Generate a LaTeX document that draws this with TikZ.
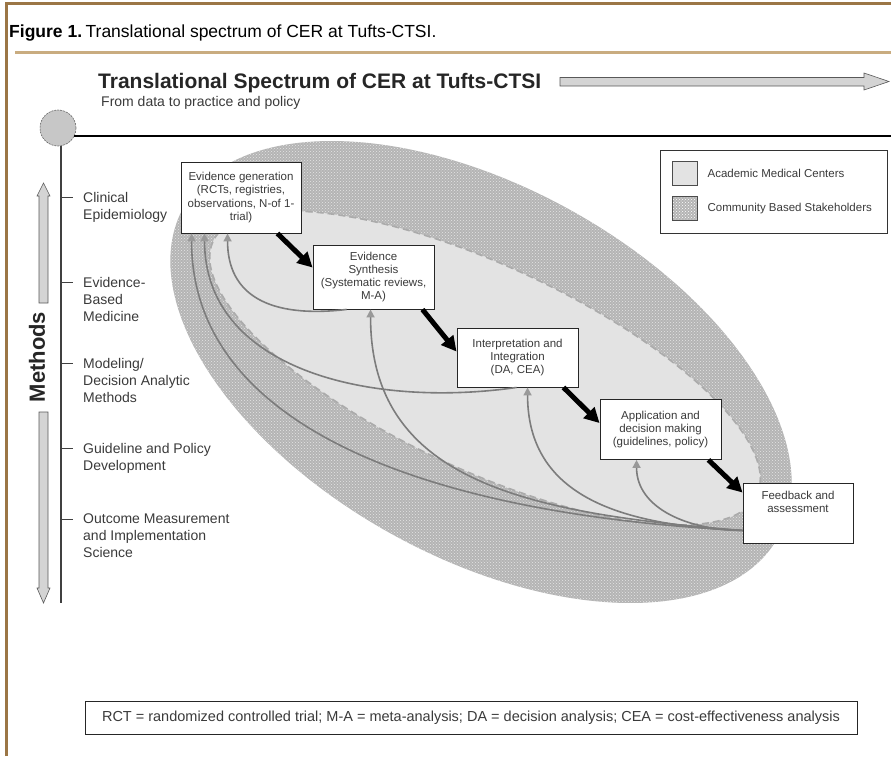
\documentclass[tikz,border=0pt]{standalone}
\usepackage{fontspec}
\setmainfont{Liberation Sans}
\usetikzlibrary{arrows.meta,positioning,patterns}

\definecolor{framebrown}{HTML}{9B7646}
\definecolor{rulebrown}{HTML}{C9AC80}
\definecolor{commgray}{HTML}{B4B4B4}
\definecolor{acadgray}{HTML}{E3E3E3}
\definecolor{loopgray}{HTML}{7C7C7C}
\definecolor{inkgray}{HTML}{3A3A3A}

\begin{document}
\begin{tikzpicture}[x=1pt, y=-1pt]
    \tikzset{
        stage/.style={
            draw=black!85, fill=white, line width=0.9pt,
            align=center, inner sep=2pt, text=inkgray,
            font=\fontsize{11.5}{13.3}\selectfont
        },
        forward/.style={
            line width=5pt, -{Triangle[length=15pt,width=15pt]}
        },
        loopback/.style={
            draw=loopgray, line width=1.6pt,
            -{Triangle[length=8pt,width=8pt,color=black!40]}
        },
        method/.style={
            anchor=north west, align=left, inner sep=0pt, text=inkgray,
            font=\fontsize{14}{17}\selectfont
        },
        swatch/.style={
            draw=black!70, line width=0.8pt, inner sep=0pt,
            minimum width=25pt, minimum height=24pt
        },
        hollow/.style={
            fill=black!17, draw=black!65, line width=0.6pt
        },
    }
    \useasboundingbox (0,0) rectangle (891,756);

    % ==== Frame and caption ====
    \draw[framebrown, line width=3pt] (6.5,756) -- (6.5,3.5) -- (891,3.5);
    \draw[rulebrown, line width=3pt] (15,52) -- (891,52);
    \node[anchor=base west, inner sep=0pt, font=\fontsize{17.5}{20}\selectfont] (caption) at (9,37)
        {\textbf{Figure 1.}\hspace{0.2em}Translational spectrum of CER at Tufts-CTSI.};

    % ==== Title and spectrum arrow ====
    \node[anchor=base west, inner sep=0pt, text=black!85,
          font=\bfseries\fontsize{21}{25}\selectfont] (title) at (98,88)
        {Translational Spectrum of CER at Tufts-CTSI};
    \node[anchor=base west, inner sep=0pt, text=inkgray,
          font=\fontsize{14}{16}\selectfont] (subtitle) at (101,106)
        {From data to practice and policy};
    \filldraw[hollow] (560,77.5) -- (864,77.5) -- (864,73) -- (889,81.5)
        -- (864,90) -- (864,86) -- (560,86) -- cycle;

    % ==== Community / academic regions ====
    \coordinate (outerc) at (481,372);
    \coordinate (innerc) at (485,368);
    \fill[commgray, rotate around={-29:(outerc)}] (outerc) ellipse [x radius=340pt, y radius=185pt];
    \fill[pattern=crosshatch dots, pattern color=white!80!gray, rotate around={-29:(outerc)}]
        (outerc) ellipse [x radius=340pt, y radius=185pt];
    \filldraw[fill=acadgray, draw=black!33, line width=1.6pt, dash pattern=on 7pt off 4pt,
        rotate around={-25:(innerc)}] (innerc) ellipse [x radius=300pt, y radius=102pt];

    % ==== Axis with methods ====
    \node[circle, minimum size=36pt, inner sep=0pt, fill=black!22, draw=black!60,
          line width=0.6pt, dash pattern=on 2pt off 1pt] (hub) at (58,128) {};
    \coordinate (axtop) at (61,146);
    \coordinate (axbot) at (61,603);
    \coordinate (linestart) at (74,136);
    \coordinate (lineend) at (891,136);
    \draw[line width=2.2pt] (linestart) -- (lineend);
    \draw[black!75, line width=1.1pt] (axtop) -- (axbot);

    \draw[black!75, line width=1pt] (61,197) -- (73,197);
    \draw[black!75, line width=1pt] (61,282) -- (73,282);
    \draw[black!75, line width=1pt] (61,363) -- (73,363);
    \draw[black!75, line width=1pt] (61,448) -- (73,448);
    \draw[black!75, line width=1pt] (61,519) -- (73,519);

    \node[method] (clin) at (83,191.8) {Clinical\\Epidemiology};
    \node[method] (ebm) at (83,276.8) {Evidence-\\Based\\Medicine};
    \node[method] (model) at (83,357.8) {Modeling/\\Decision Analytic\\Methods};
    \node[method] (guide) at (83,442.8) {Guideline and Policy\\Development};
    \node[method] (outc) at (83,513.8) {Outcome Measurement\\and Implementation\\Science};

    \filldraw[hollow] (39,303) -- (39,196) -- (37,196) -- (43.5,183) -- (50,196)
        -- (48,196) -- (48,303) -- cycle;
    \filldraw[hollow] (39,412) -- (39,588) -- (37,588) -- (43.5,603) -- (50,588)
        -- (48,588) -- (48,412) -- cycle;
    \node[rotate=90, inner sep=0pt, text=black!85,
          font=\bfseries\fontsize{22}{26}\selectfont] (methods) at (37,357) {Methods};

    % ==== Stages ====
    \node[stage, minimum width=120pt, minimum height=71pt] (gen) at (241,197.5)
        {Evidence generation\\(RCTs, registries,\\observations, N-of 1-\\trial)};
    \node[stage, minimum width=121pt, minimum height=64pt] (syn) at (373.5,277)
        {Evidence\\Synthesis\\(Systematic reviews,\\M-A)};
    \node[stage, minimum width=121pt, minimum height=59pt] (integ) at (517.5,357.5)
        {Interpretation and\\Integration\\(DA, CEA)};
    \node[stage, minimum width=121pt, minimum height=60pt] (apply) at (660.5,429.5)
        {Application and\\decision making\\(guidelines, policy)};
    \node[stage, minimum width=110pt, minimum height=60pt, text depth=22pt] (feed) at (798,513)
        {Feedback and\\assessment};

    % ==== Feedback loops ====
    \coordinate (fbsrc) at ([yshift=13pt]feed.south west);
    \draw[loopback] (fbsrc) .. controls +(-300,-15) and +(0,200) .. ([xshift=11pt]gen.south west);
    \draw[loopback] (fbsrc) .. controls +(-220,-17) and +(0,170) .. ([xshift=58pt]syn.south west);
    \draw[loopback] (fbsrc) .. controls +(-120,-5) and +(0,110) .. ([xshift=71pt]integ.south west);
    \draw[loopback] (fbsrc) .. controls +(-53,0) and +(0,49) .. ([xshift=37pt]apply.south west);
    \draw[loopback] ([xshift=60pt]integ.south west) .. controls +(-147,21) and +(0,136) .. ([xshift=24pt]gen.south west);
    \draw[loopback] ([xshift=34pt]syn.south west) .. controls +(-77,9) and +(0,62) .. ([xshift=47pt]gen.south west);

    % ==== Main flow ====
    \draw[forward] ([xshift=-24pt]gen.south east) -- ([yshift=-23pt]syn.north west);
    \draw[forward] ([xshift=-12pt]syn.south east) -- ([yshift=-24pt]integ.north west);
    \draw[forward] ([xshift=-15pt]integ.south east) -- ([yshift=-24pt]apply.north west);
    \draw[forward] ([xshift=-13pt]apply.south east) -- ([yshift=-10pt]feed.north west);

    % ==== Legend ====
    \node[draw=black!80, line width=0.9pt, minimum width=227pt, minimum height=83pt] (legend) at (773.5,191.5) {};
    \node[swatch, fill=acadgray] (swA) at (684.5,173) {};
    \node[swatch, preaction={fill=commgray}, pattern=crosshatch dots, pattern color=white] (swB) at (684.5,208.5) {};
    \node[right=9pt of swA, inner sep=1pt, text=inkgray, font=\fontsize{11.5}{13}\selectfont] (legA) {Academic Medical Centers};
    \node[right=9pt of swB, inner sep=1pt, text=inkgray, font=\fontsize{11.5}{13}\selectfont] (legB) {Community Based Stakeholders};

    % ==== Abbreviations ====
    \node[draw=black!85, line width=0.9pt, minimum width=772pt, minimum height=33pt, text=inkgray,
          font=\fontsize{14.5}{17}\selectfont] (abbr) at (471,717.5)
        {RCT = randomized controlled trial; M-A = meta-analysis; DA = decision analysis; CEA = cost-effectiveness analysis};
\end{tikzpicture}
\end{document}
